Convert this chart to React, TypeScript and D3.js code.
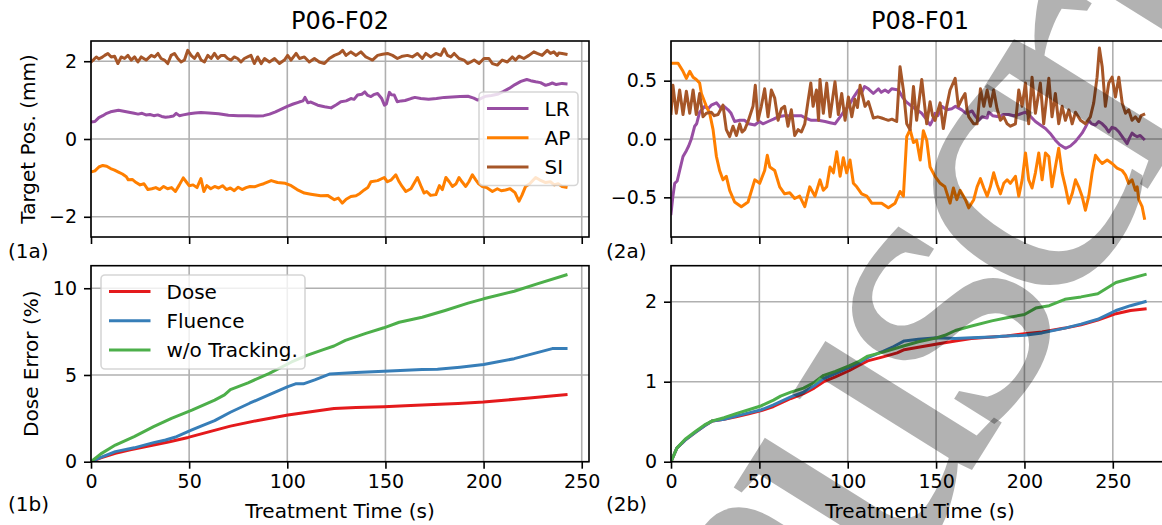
import React, { useEffect, useRef } from 'react';
import * as d3 from 'd3';

// values: [time (s), value]

// P06-F02 target position (mm)
const lrLeft = [[0,0.44],[2,0.45],[4,0.55],[6,0.6],[8,0.66],[10,0.7],[12,0.72],[14,0.74],[16,0.72],[18,0.7],[20,0.68],[22,0.66],[24,0.64],[26,0.66],[28,0.62],[30,0.63],[32,0.6],[34,0.62],[36,0.58],[38,0.56],[40,0.57],[42,0.59],[43.4,0.66],[45,0.6],[47,0.62],[50,0.65],[53,0.67],[56,0.68],[60,0.67],[65,0.65],[70,0.61],[75,0.6],[80,0.6],[85,0.59],[88,0.6],[91,0.64],[94,0.7],[97,0.77],[100,0.84],[103,0.9],[106,0.95],[108,0.98],[109,1.07],[110.5,0.93],[112,0.95],[115.5,0.87],[119,0.83],[122.3,0.8],[125,0.88],[127.3,0.96],[130,0.98],[132.4,1.04],[134,1.02],[135.8,1.13],[138,1.15],[139.5,1.21],[141,1.12],[142.6,1.09],[144,1.14],[146,1.17],[148,1.05],[149.5,0.87],[150.5,0.9],[152,1.2],[153,1.14],[154.5,1.13],[156,0.96],[158,0.98],[160,0.99],[163,1.04],[165,1.07],[168,1.04],[172,1.02],[176,1.04],[180,1.07],[184,1.08],[188,1.09],[192,1.1],[195,1.05],[197,1.0],[199,1.05],[201,1.1],[204,1.12],[207,1.15],[210,1.22],[213,1.3],[216,1.4],[219,1.48],[222,1.53],[224,1.5],[226.5,1.47],[229,1.45],[231.6,1.38],[233,1.4],[235,1.44],[237,1.4],[240,1.43],[242,1.42]];
const apLeft = [[0,-0.85],[2,-0.82],[4,-0.72],[6,-0.68],[8,-0.7],[10,-0.76],[12,-0.8],[14,-0.85],[16,-0.9],[18,-0.97],[19,-1.05],[21,-1.04],[23,-1.12],[25,-1.18],[27,-1.15],[29,-1.3],[31,-1.28],[33,-1.25],[35,-1.3],[37,-1.22],[39,-1.28],[41,-1.25],[43,-1.35],[45,-1.18],[47,-1.0],[48.5,-1.1],[50,-1.2],[52,-1.18],[54,-1.25],[56,-1.02],[57.5,-1.35],[59,-1.2],[61,-1.28],[63,-1.22],[65,-1.26],[67,-1.2],[69,-1.3],[71,-1.26],[73,-1.33],[75,-1.24],[77,-1.3],[79,-1.25],[81,-1.22],[83.3,-1.23],[86,-1.18],[88,-1.15],[91.8,-1.07],[95,-1.12],[99,-1.14],[102,-1.2],[105,-1.3],[108.7,-1.39],[112,-1.42],[117,-1.46],[120.5,-1.45],[124,-1.56],[126,-1.52],[128,-1.65],[130,-1.55],[132.4,-1.48],[135,-1.46],[137,-1.4],[139.2,-1.31],[141,-1.25],[142.6,-1.1],[146,-1.07],[149.4,-0.99],[151,-1.1],[153,-1.05],[155.3,-0.92],[157,-1.1],[158.5,-1.22],[160.4,-1.35],[163,-1.28],[166.3,-0.99],[168,-1.2],[169.7,-1.39],[171,-1.35],[173,-1.45],[175.7,-1.43],[177.5,-1.2],[179,-1.3],[180.8,-0.99],[182.5,-1.1],[184.1,-1.22],[186,-1.15],[187.5,-0.99],[189,-1.1],[190.9,-1.22],[192.5,-1.1],[194.3,-0.92],[196,-1.05],[197.5,-1.15],[199.4,-1.22],[201.5,-1.25],[204.5,-1.35],[207,-1.28],[209,-1.33],[211.2,-1.31],[213.5,-1.28],[216,-1.38],[218,-1.6],[219.5,-1.45],[221.4,-1.22],[223.5,-1.15],[226.5,-0.99],[228.5,-1.05],[231.6,-1.12],[234,-1.1],[236,-1.18],[238,-1.15],[240,-1.22],[242,-1.24]];
const siLeft = [[0,1.98],[1.5,2.05],[2.7,2.11],[4,2.06],[5.3,2.09],[7,2.15],[8.6,2.2],[10.3,2.11],[12,2.13],[13.7,1.94],[15.4,2.11],[17.1,2.07],[18.8,2.15],[20.5,2.03],[22.2,2.11],[23.9,1.98],[25.6,2.11],[28.1,2.03],[30.7,2.15],[32.4,2.11],[34.1,2.2],[35.7,2.07],[37.4,2.03],[39.1,1.94],[40.8,2.15],[42.5,2.2],[44.2,2.07],[45.9,1.98],[47.6,2.03],[49.3,2.28],[51,2.15],[52.7,2.07],[54.4,2.2],[56.1,2.03],[57.8,1.98],[59.5,2.15],[61.2,2.07],[62.9,2.2],[64.6,2.07],[66.3,2.15],[68,2.15],[69.6,2.07],[71.3,2.03],[73,2.11],[74.7,2.07],[76.4,1.98],[78.1,2.07],[79.8,2.11],[81.5,2.15],[83.2,1.94],[84.9,2.11],[86.7,1.94],[88.4,2.07],[90.9,1.98],[93.5,2.07],[96,1.94],[98.5,2.03],[100.2,2.15],[101.9,2.03],[104.5,2.2],[106.2,2.07],[108.7,2.11],[111.2,1.98],[113.8,2.07],[116.3,1.98],[118.9,1.94],[121.4,2.07],[124,2.15],[126.5,2.2],[128.2,2.28],[129.9,2.15],[132.4,2.24],[135,2.15],[137.5,2.24],[140,2.11],[141.7,2.07],[143.4,2.03],[146,2.15],[148.5,2.18],[151,2.2],[153.6,2.15],[156.1,2.07],[158.7,2.13],[161.2,2.15],[163.7,2.11],[166.3,2.2],[168.8,2.07],[170.6,2.2],[173.1,2.11],[175.7,2.2],[178.2,2.15],[179.9,2.32],[181.6,2.15],[183.3,2.11],[185,2.2],[187.5,2.07],[190,2.03],[191.8,1.94],[193.5,1.98],[195.2,2.03],[197.7,1.94],[200.2,2.07],[202.7,2.07],[204.5,1.94],[207,1.9],[209.5,2.03],[212.1,1.98],[214.6,2.11],[216.3,2.03],[218,2.13],[220.5,2.07],[223.1,2.15],[225.6,2.24],[227.3,2.2],[229.8,2.15],[232.4,2.28],[234.1,2.2],[235.8,2.24],[237.5,2.15],[238.3,2.21],[240,2.2],[242,2.18]];

// P08-F01 target position (mm)
const lrRight = [[0,-0.64],[1,-0.5],[2.1,-0.38],[3.5,-0.36],[4.9,-0.27],[6.8,-0.15],[8.7,-0.1],[10,-0.06],[11.5,0.0],[13.4,0.11],[14.5,0.13],[16.2,0.23],[19.1,0.28],[21,0.26],[22.8,0.29],[25.7,0.31],[28.5,0.26],[30,0.28],[32.3,0.25],[34,0.22],[36,0.15],[38.9,0.16],[41.7,0.16],[44,0.13],[47.4,0.12],[50,0.15],[52,0.13],[55,0.15],[58,0.17],[60.6,0.19],[64,0.2],[68.1,0.2],[73.8,0.2],[76,0.18],[79.4,0.16],[83.2,0.16],[87.2,0.15],[90,0.14],[92.8,0.13],[95.7,0.19],[98,0.24],[100.4,0.28],[103,0.35],[106,0.42],[108,0.4],[109.5,0.45],[111.7,0.43],[114.5,0.39],[117.4,0.43],[119,0.4],[121.1,0.42],[123,0.4],[124.9,0.43],[128.7,0.42],[131,0.36],[133,0.32],[136.2,0.28],[139,0.25],[141.9,0.22],[144,0.18],[146.6,0.12],[148,0.16],[149.4,0.22],[151,0.2],[153.2,0.28],[156,0.25],[158.9,0.26],[161,0.28],[164.5,0.25],[167,0.22],[170.4,0.24],[172,0.2],[174.1,0.16],[176,0.19],[178.9,0.18],[179.8,0.23],[182,0.2],[185.5,0.19],[188,0.21],[191.1,0.21],[194,0.2],[196.8,0.21],[200.6,0.23],[203,0.2],[206.2,0.15],[209,0.12],[211.9,0.09],[215,0.04],[217.5,-0.01],[220,-0.05],[223.2,-0.08],[226,-0.06],[228.9,-0.02],[232.6,0.05],[234.5,0.1],[236.4,0.16],[238,0.13],[240.2,0.12],[242,0.15],[244,0.13],[246,0.1],[247.7,0.06],[249.5,0.1],[251.5,0.09],[253.5,0.06],[255.3,0.02],[258.1,-0.04],[259.5,0.01],[260.9,0.05],[262.5,0.03],[263.8,0.02],[265.5,0.03],[267.5,0.0]];
const apRight = [[0,0.65],[4,0.65],[6.8,0.58],[8.7,0.52],[10.6,0.58],[12.5,0.53],[14.3,0.51],[16.2,0.48],[17.2,0.39],[20,0.28],[21.9,0.22],[23.8,0.08],[25.7,-0.15],[27.5,-0.27],[29.4,-0.35],[31.3,-0.32],[33.2,-0.44],[36,-0.54],[39.8,-0.58],[43.6,-0.54],[47.4,-0.35],[50.2,-0.38],[53,-0.27],[54.5,-0.14],[55.9,-0.24],[58.7,-0.27],[61.5,-0.41],[64.3,-0.47],[67.2,-0.46],[70,-0.51],[72.8,-0.49],[75.7,-0.58],[78.5,-0.41],[81.5,-0.49],[84.3,-0.35],[86.2,-0.44],[88.1,-0.41],[90,-0.24],[91.9,-0.29],[93.8,-0.11],[95.7,-0.32],[97.5,-0.16],[99.4,-0.29],[101.3,-0.18],[103.2,-0.38],[105.1,-0.41],[107.9,-0.47],[110.8,-0.49],[113.6,-0.55],[119.2,-0.55],[123,-0.59],[126.8,-0.55],[129.6,-0.45],[131.5,-0.49],[133.4,0.02],[135.3,0.08],[137.2,-0.03],[139,-0.01],[141,-0.18],[142.8,0.07],[144.7,-0.01],[146.6,-0.24],[149.4,-0.32],[152.3,-0.38],[155,-0.41],[157.9,-0.55],[159.8,-0.42],[161.7,-0.52],[163.6,-0.44],[166.6,-0.52],[168.5,-0.59],[171.3,-0.52],[173.2,-0.41],[175.1,-0.34],[177,-0.42],[178.9,-0.49],[180.7,-0.41],[182.6,-0.29],[184.5,-0.39],[186.4,-0.47],[188.3,-0.38],[190.2,-0.35],[192,-0.38],[194.9,-0.32],[196.8,-0.49],[198.7,-0.35],[200.6,-0.12],[202.4,-0.35],[204.3,-0.42],[206.2,-0.29],[208.1,-0.12],[210,-0.35],[211.9,-0.12],[213.8,-0.15],[215.6,-0.41],[217.5,-0.24],[219.4,-0.08],[221.3,-0.29],[223.2,-0.41],[225.1,-0.55],[227,-0.47],[228.9,-0.35],[230.7,-0.41],[232.6,-0.49],[234.5,-0.61],[236.4,-0.49],[238.3,-0.29],[240.2,-0.14],[242.1,-0.18],[244,-0.21],[246.8,-0.18],[249.6,-0.21],[252.4,-0.25],[255.3,-0.27],[257.2,-0.31],[259,-0.38],[260.9,-0.35],[262.8,-0.44],[263.8,-0.41],[264.7,-0.52],[266.6,-0.58],[267.9,-0.68]];
const siRight = [[0,0.22],[1.1,0.46],[3,0.22],[4.9,0.42],[6.8,0.21],[8.7,0.41],[10.6,0.22],[12.5,0.42],[14.3,0.21],[16.2,0.39],[18.1,0.19],[20,0.22],[22.8,0.23],[24.5,0.2],[26.6,0.21],[29.4,0.29],[31.3,0.08],[33.2,0.02],[35.1,0.11],[37,0.03],[38.9,0.13],[40.2,0.06],[41.7,0.08],[43.6,0.15],[46.4,0.28],[47.7,0.46],[49.2,0.16],[51.1,0.28],[53,0.43],[54.9,0.19],[56.8,0.42],[58.7,0.35],[60.6,0.16],[62.5,0.26],[64.3,0.28],[66.2,0.11],[68.1,0.25],[70,0.03],[71.9,0.08],[73.8,0.06],[75.7,0.13],[77.6,0.33],[79.1,0.48],[80.4,0.28],[82.3,0.42],[83.5,0.16],[84.3,0.51],[86.2,0.22],[88.1,0.48],[90,0.19],[92.8,0.49],[94.7,0.21],[96.6,0.39],[98.5,0.16],[100.4,0.36],[102.3,0.19],[104.1,0.34],[105.5,0.27],[107,0.46],[109.8,0.28],[111.7,0.32],[114.5,0.18],[117,0.19],[119.2,0.18],[121,0.17],[123,0.16],[125,0.17],[127.7,0.15],[129.6,0.62],[131.5,0.42],[133.4,0.13],[135.3,0.08],[137.2,0.45],[139,0.16],[141.9,0.51],[144.7,0.13],[146.6,0.32],[148,0.2],[149.4,0.16],[152.3,0.31],[154.1,0.09],[156,0.28],[157.9,0.42],[160.8,0.52],[162.6,0.28],[164.5,0.34],[166.4,0.39],[167.5,0.25],[168.5,0.19],[171.3,0.13],[173.2,0.13],[175.1,0.43],[177,0.28],[178.9,0.42],[180.7,0.28],[182.6,0.42],[184.5,0.26],[186.4,0.16],[188.3,0.19],[190.2,0.13],[192.1,0.11],[194.9,0.13],[196.8,0.42],[198.7,0.28],[200.6,0.48],[202.4,0.13],[204.3,0.53],[206.2,0.22],[209,0.48],[210.9,0.13],[213.8,0.52],[215.6,0.19],[217.5,0.39],[219.4,0.13],[221.3,0.28],[223.2,0.16],[225.1,0.25],[227,0.13],[228.9,0.23],[231.7,0.16],[234.5,0.13],[237.3,0.19],[239.2,0.31],[241.1,0.53],[242.4,0.78],[244,0.62],[245.8,0.28],[247.7,0.48],[249.6,0.53],[251.5,0.36],[253.4,0.53],[255.3,0.31],[257.2,0.22],[259,0.25],[260.9,0.16],[262.8,0.19],[264.7,0.15],[266,0.2],[267.5,0.21]];

// dose error (%)
const doseLeft = [[0,0],[5,0.22],[12.4,0.48],[20,0.68],[31.9,0.96],[40,1.15],[49.5,1.4],[60,1.72],[71,2.05],[85,2.38],[100.3,2.69],[112,2.88],[123.8,3.07],[135,3.12],[149.2,3.17],[160,3.22],[174.6,3.3],[187,3.36],[199.9,3.44],[212,3.56],[223.4,3.67],[233,3.77],[242,3.86]];
const fluenceLeft = [[0,0],[5,0.25],[12.4,0.58],[22,0.8],[31.9,1.1],[38,1.25],[43.6,1.44],[51.4,1.83],[57,2.1],[63,2.37],[71,2.85],[80.8,3.37],[90.6,3.85],[100.3,4.33],[104.2,4.49],[108.2,4.49],[114,4.72],[121.8,5.06],[135,5.14],[149.2,5.22],[168.7,5.31],[176.5,5.33],[188,5.45],[200,5.6],[215.6,5.94],[227.3,6.29],[235,6.52],[242,6.52]];
const noTrackLeft = [[0,0],[5,0.45],[12.4,0.96],[22,1.45],[31.9,2.02],[41,2.5],[51.4,2.97],[63,3.55],[68,3.85],[71,4.16],[80,4.55],[90.6,5.08],[102.2,5.75],[110,6.13],[118,6.45],[123.8,6.67],[129.6,6.99],[140,7.4],[149.2,7.72],[157,8.04],[168.7,8.33],[180.4,8.72],[192.1,9.14],[200,9.39],[215.6,9.83],[227.3,10.25],[242,10.77]];
const doseRight = [[0,0],[3.3,0.17],[8,0.27],[14,0.37],[19,0.45],[23.4,0.51],[30,0.53],[36.8,0.56],[44,0.6],[51.2,0.64],[58,0.69],[67.8,0.79],[75,0.85],[81,0.92],[86.4,1.0],[93,1.06],[101,1.14],[106,1.2],[111.3,1.26],[120,1.31],[128,1.36],[132,1.4],[140,1.43],[150.6,1.47],[160.9,1.51],[170,1.54],[181.5,1.56],[190,1.57],[200,1.6],[210,1.62],[222.9,1.67],[232,1.71],[241.5,1.77],[251.8,1.85],[260,1.89],[268.3,1.91]];
const fluenceRight = [[0,0],[3.3,0.17],[8,0.27],[14,0.37],[19,0.45],[23.4,0.51],[30,0.53],[36.8,0.57],[44,0.61],[51.2,0.65],[58,0.71],[67.8,0.81],[75,0.87],[81,0.95],[86.4,1.04],[93,1.1],[101,1.18],[106,1.23],[111.3,1.3],[120,1.38],[126,1.44],[132,1.51],[140,1.53],[150.6,1.55],[160.9,1.54],[170,1.55],[181.5,1.56],[190,1.57],[200,1.58],[210,1.61],[222.9,1.67],[232,1.72],[241.5,1.78],[251.8,1.89],[260,1.95],[268.3,2.0]];
const noTrackRight = [[0,0],[3.3,0.17],[8,0.28],[14,0.38],[19,0.46],[23.4,0.51],[30,0.55],[36.8,0.6],[44,0.65],[51.2,0.7],[58,0.77],[62,0.82],[67.8,0.87],[75,0.92],[81,0.99],[86.4,1.08],[93,1.13],[101,1.2],[106,1.25],[111.3,1.32],[120,1.37],[132,1.45],[140,1.5],[150.6,1.55],[155,1.58],[160.9,1.64],[169,1.69],[181.5,1.76],[190,1.8],[200,1.84],[206.4,1.92],[214,1.95],[222.9,2.03],[232,2.06],[241.5,2.1],[251.8,2.24],[260,2.29],[268.3,2.34]];

const motionNames = ['LR', 'AP', 'SI'];
const errorNames = ['Dose', 'Fluence', 'w/o Tracking.'];
const motionColors = ['#984ea3', '#ff7f00', '#a65628'];
const errorColors = ['#e41a1c', '#377eb8', '#4daf4a'];
const titles = ['P06-F02', 'P08-F01'];
const xTicks = [0, 50, 100, 150, 200, 250];
const yTicksTL = [-2, 0, 2];
const yTicksBL = [0, 5, 10];
const yTicksTR = [-0.5, 0, 0.5];
const yTicksBR = [0, 1, 2];

const FONT = 'DejaVu Sans';

const App = () => {
  const svgRef = useRef(null);

  useEffect(() => {
    const svg = d3.select(svgRef.current);
    svg.selectAll('*').remove();

    const panels = [
      { id: 'tl', left: 91, top: 41, xMax: 253.7, yDom: [-2.52, 2.52], yTicks: yTicksTL, fmt: d3.format('d'), series: [lrLeft, apLeft, siLeft], colors: motionColors, xLabels: false },
      { id: 'bl', left: 91, top: 265.7, xMax: 253.7, yDom: [0, 11.3], yTicks: yTicksBL, fmt: d3.format('d'), series: [doseLeft, fluenceLeft, noTrackLeft], colors: errorColors, xLabels: true },
      { id: 'tr', left: 671, top: 41, xMax: 281.8, yDom: [-0.84, 0.84], yTicks: yTicksTR, fmt: d3.format('.1f'), series: [lrRight, apRight, siRight], colors: motionColors, xLabels: false },
      { id: 'br', left: 671, top: 265.7, xMax: 281.8, yDom: [0, 2.45], yTicks: yTicksBR, fmt: d3.format('d'), series: [doseRight, fluenceRight, noTrackRight], colors: errorColors, xLabels: true },
    ];
    const W = 498;
    const H = 196;

    panels.forEach((p) => {
      const x = d3.scaleLinear().domain([0, p.xMax]).range([p.left, p.left + W]);
      const y = d3.scaleLinear().domain(p.yDom).range([p.top + H, p.top]);
      const g = svg.append('g');

      g.append('clipPath').attr('id', `clip-${p.id}`)
        .append('rect').attr('x', p.left).attr('y', p.top).attr('width', W).attr('height', H);

      // grid
      g.append('g').selectAll('line').data(xTicks).join('line')
        .attr('x1', (d) => x(d)).attr('x2', (d) => x(d))
        .attr('y1', p.top).attr('y2', p.top + H)
        .attr('stroke', '#b0b0b0').attr('stroke-width', 1.6);
      g.append('g').selectAll('line').data(p.yTicks).join('line')
        .attr('x1', p.left).attr('x2', p.left + W)
        .attr('y1', (d) => y(d)).attr('y2', (d) => y(d))
        .attr('stroke', '#b0b0b0').attr('stroke-width', 1.6);

      // series
      const line = d3.line().x((d) => x(d[0])).y((d) => y(d[1]));
      g.append('g').attr('clip-path', `url(#clip-${p.id})`)
        .selectAll('path').data(p.series).join('path')
        .attr('d', (d) => line(d))
        .attr('fill', 'none')
        .attr('stroke', (d, i) => p.colors[i])
        .attr('stroke-width', 3)
        .attr('stroke-linejoin', 'round')
        .attr('stroke-linecap', 'square');

      // axes
      const xAxis = d3.axisBottom(x).tickValues(xTicks).tickSize(7).tickSizeOuter(0).tickPadding(6)
        .tickFormat((d) => (p.xLabels ? d3.format('d')(d) : ''));
      const ax = g.append('g').attr('transform', `translate(0,${p.top + H})`).call(xAxis);
      const yAxis = d3.axisLeft(y).tickValues(p.yTicks).tickSize(7).tickSizeOuter(0).tickPadding(7)
        .tickFormat(p.fmt);
      const ay = g.append('g').attr('transform', `translate(${p.left},0)`).call(yAxis);
      [ax, ay].forEach((a) => {
        a.select('.domain').remove();
        a.selectAll('line').attr('stroke', '#000').attr('stroke-width', 1.6);
        a.selectAll('text').attr('font-family', FONT).attr('font-size', 19).attr('fill', '#000');
      });
      ax.selectAll('text').attr('dy', '0.71em');

      // spines
      g.append('rect').attr('x', p.left).attr('y', p.top).attr('width', W).attr('height', H)
        .attr('fill', 'none').attr('stroke', '#000').attr('stroke-width', 1.6);
    });

    const text = (s, x0, y0, size, anchor = 'start', rotate = 0) =>
      svg.append('text')
        .attr('transform', `translate(${x0},${y0}) rotate(${rotate})`)
        .attr('font-family', FONT).attr('font-size', size)
        .attr('text-anchor', anchor).attr('fill', '#000').text(s);

    text(titles[0], 340, 29, 24, 'middle');
    text(titles[1], 920, 29, 24, 'middle');
    text('Target Pos. (mm)', 35, 139, 20, 'middle', -90);
    text('Dose Error (%)', 38, 363.7, 20, 'middle', -90);
    text('Treatment Time (s)', 340, 518, 20, 'middle');
    text('Treatment Time (s)', 920, 518, 20, 'middle');
    text('(1a)', 8, 258, 20);
    text('(1b)', 8, 511, 20);
    text('(2a)', 606, 258, 20);
    text('(2b)', 606, 511, 20);

    // legends
    const legend = (lx, ly, lw, lh, names, colors) => {
      const lg = svg.append('g');
      lg.append('rect').attr('x', lx).attr('y', ly).attr('width', lw).attr('height', lh)
        .attr('rx', 4).attr('fill', '#fff').attr('fill-opacity', 0.8)
        .attr('stroke', '#cccccc').attr('stroke-opacity', 0.8).attr('stroke-width', 1.6);
      const rows = lg.selectAll('g').data(names).join('g')
        .attr('transform', (d, i) => `translate(${lx + 8},${ly + 16.6 + i * 29.2})`);
      rows.append('line').attr('x1', 0).attr('x2', 41.5)
        .attr('stroke', (d, i) => colors[i]).attr('stroke-width', 3);
      rows.append('text').attr('x', 57.5).attr('y', 7)
        .attr('font-family', FONT).attr('font-size', 20).attr('fill', '#000')
        .text((d) => d);
    };
    legend(479, 92, 99, 93.5, motionNames, motionColors);
    legend(101, 275, 204, 94, errorNames, errorColors);

    // "Manuscript" watermark laid over the right half
    svg.append('text')
      .attr('transform', 'translate(534,1171) rotate(-58)')
      .attr('font-family', 'Liberation Serif').attr('font-size', 420)
      .attr('letter-spacing', -30)
      .attr('fill', '#000').attr('fill-opacity', 0.3)
      .text('Manuscript');
  }, []);

  return (
    <svg ref={svgRef} width={1162} height={525}
      style={{ position: 'absolute', left: 0, top: 0, background: '#fff' }} />
  );
};

export default App;
